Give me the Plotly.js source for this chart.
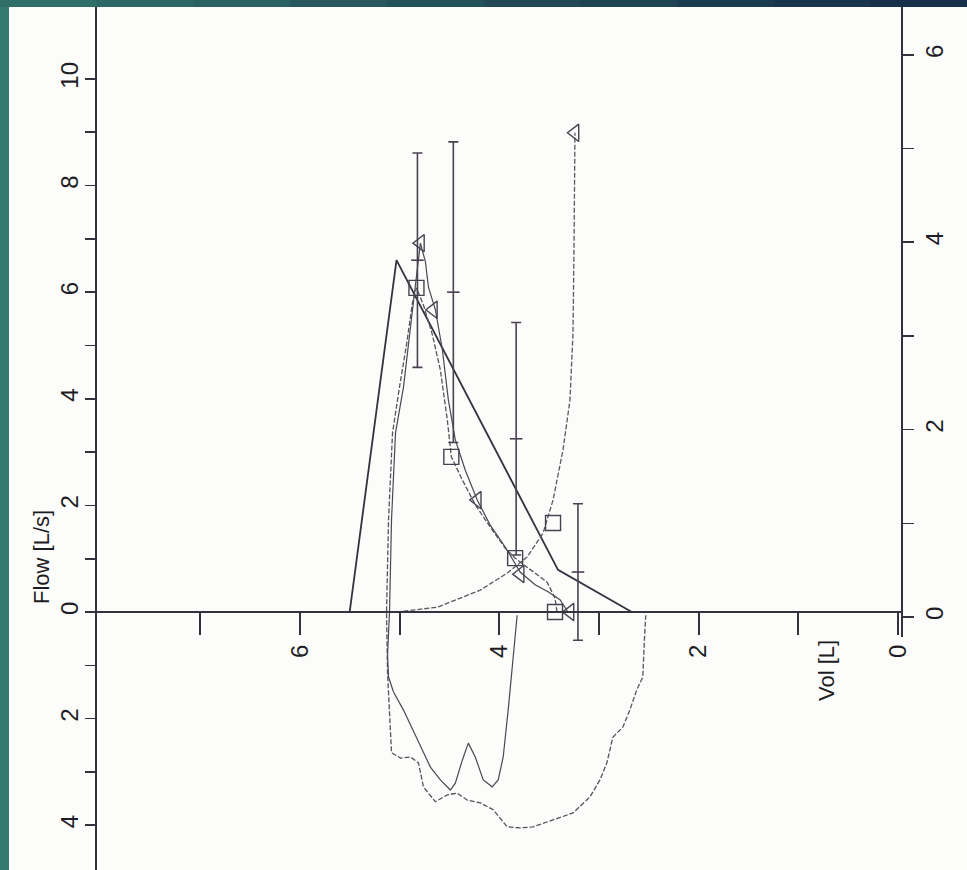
<!DOCTYPE html>
<html><head><meta charset="utf-8">
<script src="https://cdn.plot.ly/plotly-3.0.1.min.js"></script>
<style>html,body{margin:0;padding:0;background:#fff;overflow:hidden;} #chart{width:967px;height:870px;}</style>
</head><body><div id="chart"></div>
<script>
// ---- Data (Vol [L], Flow [L/s]) ----
// predicted flow-volume (straight segments)
const predVol  = [5.50, 5.03, 3.41, 2.67];
const predFlow = [0.00, 6.60, 0.79, 0.00];

// measured loop 1 (dashed): expiration + inspiration
const loopAVol  = [3.42,3.44,3.52,3.69,3.84,3.94,4.07,4.24,4.37,4.48,4.52,4.59,4.67,4.76,4.83,4.87,4.93,5.00,5.07,5.11,5.13,
                   5.12,5.08,4.99,4.89,4.81,4.76,4.64,4.52,4.42,4.32,4.19,4.06,3.92,3.79,3.66,3.46,3.26,3.09,2.99,2.92,2.86,2.76,2.69,2.62,2.56,2.54,2.53];
const loopAFlow = [0.00,0.26,0.56,0.79,1.01,1.20,1.54,2.01,2.48,2.91,3.60,4.54,5.20,5.76,6.08,5.80,5.01,4.22,3.36,1.73,0.00,
                   -1.14,-2.64,-2.74,-2.72,-2.83,-3.28,-3.56,-3.43,-3.40,-3.53,-3.58,-3.71,-4.03,-4.05,-4.03,-3.90,-3.77,-3.47,-3.15,-2.83,-2.35,-2.16,-1.84,-1.46,-1.22,-0.39,-0.06];

// measured loop 2 (solid): expiration + inspiration
const loopBVol  = [3.31,3.39,3.51,3.64,3.79,3.94,4.09,4.22,4.34,4.44,4.51,4.57,4.64,4.71,4.74,4.79,4.84,4.89,4.96,5.04,5.08,5.10,
                   5.12,5.11,5.06,4.96,4.82,4.69,4.59,4.49,4.44,4.37,4.31,4.24,4.16,4.07,4.01,3.96,3.91,3.87,3.84,3.82];
const loopBFlow = [0.00,0.23,0.38,0.51,0.75,1.22,1.63,2.10,2.66,3.23,3.98,4.92,5.67,6.10,6.57,6.92,6.14,5.29,4.22,3.36,1.73,0.00,
                   -0.80,-1.22,-1.50,-1.84,-2.40,-2.91,-3.15,-3.34,-3.21,-2.78,-2.46,-2.72,-3.15,-3.28,-3.15,-2.72,-1.84,-1.03,-0.39,-0.06];

// third dashed curve
const curveCVol  = [5.03,4.62,4.19,3.92,3.72,3.56,3.46,3.36,3.29,3.26,3.25,3.24];
const curveCFlow = [0.00,0.09,0.41,0.73,1.03,1.48,2.10,3.04,3.98,5.23,6.79,8.99];

// group markers
const squareVol  = [4.83, 4.48, 3.84, 3.46, 3.44];
const squareFlow = [6.08, 2.91, 1.01, 1.67, 0.00];
const triVol  = [4.79, 4.66, 4.22, 3.79, 3.29, 3.24];
const triFlow = [6.92, 5.67, 2.10, 0.71, 0.00, 8.99];

// mean ± SD bars
const barVol  = [4.82, 4.46, 3.83, 3.21];
const barMean = [6.60, 6.00, 3.25, 0.75];
const barSD   = [2.01, 2.82, 2.18, 1.28];

// axis ticks
const volTicks  = [0,1,2,3,4,5,6,7];
const volLabels = ['0','','2','','4','','6',''];
const flowTicks  = [-4,-3,-2,-1,0,1,2,3,4,5,6,7,8,9,10];
const flowLabels = ['4','','2','','0','','2','','4','','6','','8','','10'];
const rightTicks  = [0,1,2,3,4,5,6];
const rightLabels = ['0','','2','','4','','6'];

// ---- Layout geometry ----
const W = 967, H = 870;
const M = {l:97, r:66, t:7, b:0};
const PW = W - M.l - M.r, PH = H - M.t - M.b;
const xRange = [8.034, -0.03];
const yRange = [-4.84, 11.35];
const xPos = (0 - yRange[0]) / (yRange[1] - yRange[0]);
const y2Dom0 = 0.27;

const ink = '#34323f';
const fontFam = 'Liberation Sans, Arial, sans-serif';
const tickFont = {family: fontFam, size: 24, color: '#1e1d25'};

const traces = [
  {x: predVol, y: predFlow, mode: 'lines', line: {color: '#34323f', width: 1.8}, hoverinfo: 'skip'},
  {x: loopAVol, y: loopAFlow, mode: 'lines', line: {color: '#55535c', width: 1.3, dash: '5px,2px'}, hoverinfo: 'skip'},
  {x: loopBVol, y: loopBFlow, mode: 'lines', line: {color: '#4a4852', width: 1.2}, hoverinfo: 'skip'},
  {x: curveCVol, y: curveCFlow, mode: 'lines', line: {color: '#5a5860', width: 1.3, dash: '5px,2px'}, hoverinfo: 'skip'},
  {x: barVol, y: barMean, mode: 'markers',
   marker: {symbol: 'line-ew', size: 9, line: {color: '#4a4250', width: 1.6}},
   error_y: {type: 'data', array: barSD, symmetric: true, thickness: 1.6, width: 5, color: '#4a4250'}, hoverinfo: 'skip'},
  {x: squareVol, y: squareFlow, mode: 'markers',
   marker: {symbol: 'square-open', size: 15, color: '#444350', line: {width: 1.4}}, hoverinfo: 'skip'},
  {x: triVol, y: triFlow, mode: 'markers',
   marker: {symbol: 'triangle-left-open', size: 15, color: '#444350', line: {width: 1.4}}, hoverinfo: 'skip'},
  {x: [0], y: [0], xaxis: 'x', yaxis: 'y2', mode: 'markers', marker: {opacity: 0}, hoverinfo: 'skip'}
];

// teal frame (top band gradient + left band)
const shapes = [];
const pxX = px => (px - M.l) / PW;
const pxY = py => (H - M.b - py) / PH;
const topCols = ['#2f6f68','#2c6865','#2a6162','#27595e','#24525a','#214a56','#1e4352','#1b3c4e','#18354b','#163048'];
for (let i = 0; i < topCols.length; i++) {
  shapes.push({type: 'rect', xref: 'paper', yref: 'paper', layer: 'above',
    x0: pxX(i * W / topCols.length), x1: pxX((i + 1) * W / topCols.length + 1),
    y0: pxY(7), y1: pxY(-1), line: {width: 0}, fillcolor: topCols[i]});
}
shapes.push({type: 'rect', xref: 'paper', yref: 'paper', layer: 'above',
  x0: pxX(-1), x1: pxX(9), y0: pxY(871), y1: pxY(7), line: {width: 0}, fillcolor: '#347a6f'});

const layout = {
  width: W, height: H, margin: M, showlegend: false,
  paper_bgcolor: '#fcfcfb', plot_bgcolor: 'rgba(0,0,0,0)',
  xaxis: {range: xRange, anchor: 'free', position: xPos, showline: true, linecolor: ink, linewidth: 2,
          ticks: 'outside', ticklen: 22, tickwidth: 2, tickcolor: ink,
          tickmode: 'array', tickvals: volTicks, ticktext: volLabels, tickangle: -90, tickfont: tickFont,
          showgrid: false, zeroline: false},
  yaxis: {range: yRange, anchor: 'x', side: 'left', showline: true, linecolor: ink, linewidth: 2,
          ticks: 'outside', ticklen: 10, tickwidth: 1.6, tickcolor: ink, ticklabelstandoff: -3,
          tickmode: 'array', tickvals: flowTicks, ticktext: flowLabels, tickangle: -90, tickfont: tickFont,
          showgrid: false, zeroline: false},
  yaxis2: {domain: [y2Dom0, 1], range: [-0.213, 6.51], anchor: 'x', side: 'right', showline: true,
          linecolor: ink, linewidth: 2, ticks: 'outside', ticklen: 11, tickwidth: 1.6, tickcolor: ink,
          tickmode: 'array', tickvals: rightTicks, ticktext: rightLabels, tickangle: -90, tickfont: tickFont,
          showgrid: false, zeroline: false},
  shapes: shapes,
  annotations: [
    {text: 'Flow [L/s]', xref: 'paper', yref: 'paper', x: pxX(41), y: pxY(557), textangle: -90,
     showarrow: false, xanchor: 'center', yanchor: 'middle', font: {family: fontFam, size: 22, color: '#1e1d25'}},
    {text: 'Vol [L]', xref: 'paper', yref: 'paper', x: pxX(826), y: pxY(671), textangle: -90,
     showarrow: false, xanchor: 'center', yanchor: 'middle', font: {family: fontFam, size: 22, color: '#1e1d25'}}
  ]
};

Plotly.newPlot('chart', traces, layout, {displayModeBar: false, staticPlot: true});
</script>
</body></html>
